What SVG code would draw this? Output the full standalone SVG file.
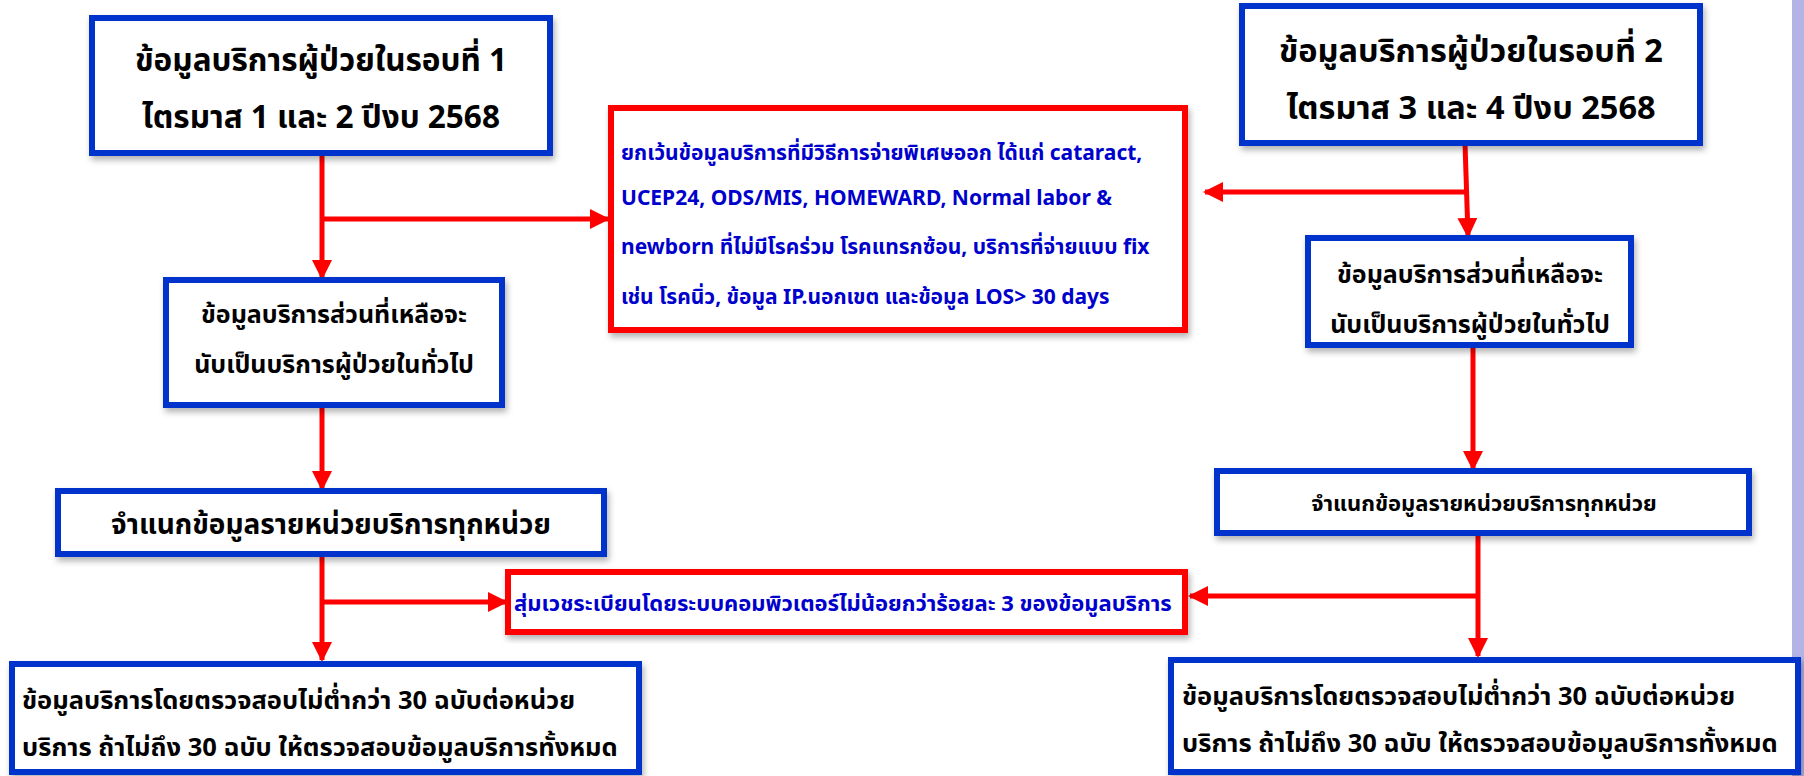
<svg xmlns="http://www.w3.org/2000/svg" width="1804" height="776" viewBox="0 0 1804 776">
<defs>
<filter id="sh" x="-5%" y="-10%" width="115%" height="130%">
<feDropShadow dx="2" dy="4" stdDeviation="3" flood-color="#000" flood-opacity="0.3"/>
</filter>
<marker id="ah" viewBox="0 0 10 10" refX="9" refY="5" markerWidth="4" markerHeight="4" markerUnits="strokeWidth" orient="auto">
<path d="M0,0 L10,5 L0,10 z" fill="#FF0000"/>
</marker>
</defs>
<style>
.bx{fill:#fff;stroke:#0033CC;stroke-width:6;filter:url(#sh)}
.rb{fill:#fff;stroke:#FF0000;stroke-width:6;filter:url(#sh)}
.t{font-family:"Noto Sans","Noto Sans Thai","DejaVu Sans",sans-serif;fill:#000;font-weight:bold}
.big{font-size:32px}
.rem{font-size:25px}
.bot{font-size:25.5px}
.blue{fill:#0000CC;font-size:21px}
.ca{stroke:#FF0000;stroke-width:5;fill:none;marker-end:url(#ah)}
</style>
<rect x="1792" y="0" width="12" height="776" fill="#B3B3E6"/>
<g id="connectors">
<line class="ca" x1="322" y1="153" x2="322" y2="278"/>
<line class="ca" x1="322" y1="219" x2="608" y2="219"/>
<line class="ca" x1="322" y1="405" x2="322" y2="489"/>
<line class="ca" x1="322" y1="555" x2="322" y2="660"/>
<line class="ca" x1="322" y1="602" x2="506" y2="602"/>
<line class="ca" x1="1465" y1="143" x2="1468" y2="236"/>
<line class="ca" x1="1466" y1="192" x2="1205" y2="192"/>
<line class="ca" x1="1473" y1="345" x2="1473" y2="469"/>
<line class="ca" x1="1478" y1="533" x2="1478" y2="656"/>
<line class="ca" x1="1478" y1="596" x2="1190" y2="596"/>
</g>
<g id="n1">
<rect class="bx" x="92" y="18" width="458" height="135"/>
<text class="t big" x="321" y="71" text-anchor="middle" style="font-size:31.5px">ข้อมูลบริการผู้ป่วยในรอบที่ 1</text>
<text class="t big" x="321" y="128" text-anchor="middle" style="font-size:31.5px">ไตรมาส 1 และ 2 ปีงบ 2568</text>
</g>
<g id="n2">
<rect class="bx" x="1242" y="6" width="458" height="137"/>
<text class="t big" x="1471" y="62" text-anchor="middle" style="font-size:32.5px">ข้อมูลบริการผู้ป่วยในรอบที่ 2</text>
<text class="t big" x="1471" y="119" text-anchor="middle" style="font-size:32.5px">ไตรมาส 3 และ 4 ปีงบ 2568</text>
</g>
<g id="n3">
<rect class="rb" x="611" y="108" width="574" height="222"/>
<text class="t blue" x="621" y="160">ยกเว้นข้อมูลบริการที่มีวิธีการจ่ายพิเศษออก ได้แก่ cataract,</text>
<text class="t blue" x="621" y="205">UCEP24, ODS/MIS, HOMEWARD, Normal labor &amp;</text>
<text class="t blue" x="621" y="254">newborn ที่ไม่มีโรคร่วม โรคแทรกซ้อน, บริการที่จ่ายแบบ fix</text>
<text class="t blue" x="621" y="304">เช่น โรคนิ่ว, ข้อมูล IP.นอกเขต และข้อมูล LOS&gt; 30 days</text>
</g>
<g id="n4">
<rect class="bx" x="166" y="280" width="336" height="125"/>
<text class="t rem" x="334" y="323" text-anchor="middle">ข้อมูลบริการส่วนที่เหลือจะ</text>
<text class="t rem" x="334" y="373" text-anchor="middle">นับเป็นบริการผู้ป่วยในทั่วไป</text>
</g>
<g id="n5">
<rect class="bx" x="1308" y="238" width="323" height="107"/>
<text class="t rem" x="1470" y="283" text-anchor="middle">ข้อมูลบริการส่วนที่เหลือจะ</text>
<text class="t rem" x="1470" y="333" text-anchor="middle">นับเป็นบริการผู้ป่วยในทั่วไป</text>
</g>
<g id="n6">
<rect class="bx" x="58" y="491" width="546" height="63"/>
<text class="t" x="331" y="534" text-anchor="middle" style="font-size:28px">จำแนกข้อมูลรายหน่วยบริการทุกหน่วย</text>
</g>
<g id="n7">
<rect class="bx" x="1217" y="471" width="532" height="62"/>
<text class="t" x="1484" y="511" text-anchor="middle" style="font-size:22px">จำแนกข้อมูลรายหน่วยบริการทุกหน่วย</text>
</g>
<g id="n8">
<rect class="rb" x="508" y="572" width="677" height="60"/>
<text class="t blue" x="514" y="611" style="font-size:22px">สุ่มเวชระเบียนโดยระบบคอมพิวเตอร์ไม่น้อยกว่าร้อยละ 3 ของข้อมูลบริการ</text>
</g>
<g id="n9">
<rect class="bx" x="12" y="664" width="627" height="108"/>
<text class="t bot" x="22" y="709">ข้อมูลบริการโดยตรวจสอบไม่ต่ำกว่า 30 ฉบับต่อหน่วย</text>
<text class="t bot" x="22" y="756">บริการ ถ้าไม่ถึง 30 ฉบับ ให้ตรวจสอบข้อมูลบริการทั้งหมด</text>
</g>
<g id="n10">
<rect class="bx" x="1171" y="660" width="627" height="112"/>
<text class="t bot" x="1182" y="705">ข้อมูลบริการโดยตรวจสอบไม่ต่ำกว่า 30 ฉบับต่อหน่วย</text>
<text class="t bot" x="1182" y="752">บริการ ถ้าไม่ถึง 30 ฉบับ ให้ตรวจสอบข้อมูลบริการทั้งหมด</text>
</g>
</svg>
